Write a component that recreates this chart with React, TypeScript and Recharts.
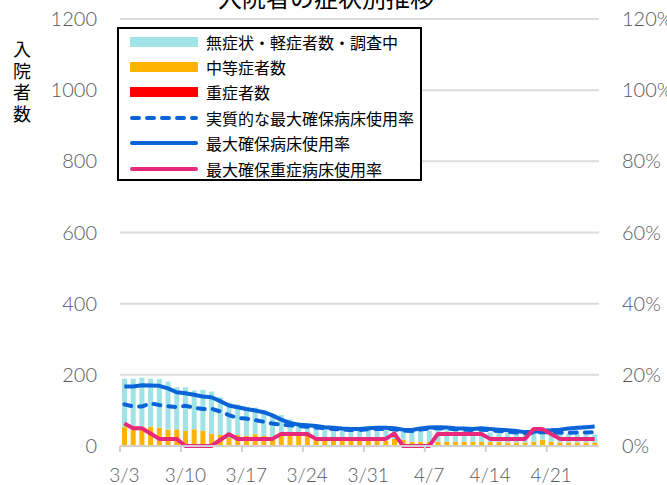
import {
    ComposedChart,
    Bar,
    Line,
    XAxis,
    YAxis,
    CartesianGrid,
    Legend,
} from 'recharts';

const dates = [
    '3/3', '3/4', '3/5', '3/6', '3/7', '3/8', '3/9', '3/10', '3/11', '3/12', '3/13', '3/14', '3/15', '3/16',
    '3/17', '3/18', '3/19', '3/20', '3/21', '3/22', '3/23', '3/24', '3/25', '3/26', '3/27', '3/28', '3/29', '3/30',
    '3/31', '4/1', '4/2', '4/3', '4/4', '4/5', '4/6', '4/7', '4/8', '4/9', '4/10', '4/11', '4/12', '4/13',
    '4/14', '4/15', '4/16', '4/17', '4/18', '4/19', '4/20', '4/21', '4/22', '4/23', '4/24', '4/25', '4/26',
];

// 無症状・軽症者数・調査中
const mild = [
    136, 133, 138, 135, 136, 135, 118, 123, 109, 116, 118, 106, 99, 86,
    80, 75, 73, 63, 59, 40, 36, 26, 34, 35, 35, 32, 32, 32,
    32, 32, 31, 25, 29, 32, 30, 31, 33, 32, 32, 30, 28, 28,
    27, 27, 26, 25, 24, 23, 20, 24, 25, 25, 24, 23, 23,
];
// 中等症者数
const moderate = [
    49, 53, 51, 52, 51, 45, 46, 42, 47, 42, 35, 30, 21, 30,
    27, 32, 27, 25, 26, 33, 29, 34, 25, 21, 19, 19, 17, 17,
    15, 14, 14, 18, 18, 12, 12, 12, 10, 10, 10, 10, 10, 10,
    10, 10, 9, 9, 9, 9, 15, 10, 9, 9, 9, 9, 9,
];
// 重症者数
const severe = [
    4, 3, 3, 2, 1, 1, 1, 0, 0, 0, 0, 1, 2, 1,
    1, 1, 1, 1, 2, 2, 2, 2, 1, 1, 1, 1, 1, 1,
    1, 1, 1, 2, 0, 0, 0, 0, 2, 2, 2, 2, 2, 2,
    1, 1, 1, 1, 1, 3, 3, 2, 1, 1, 1, 1, 1,
];
// 実質的な最大確保病床使用率 (%)
const effectiveRate = [
    11.7, 11.1, 11.1, 12.0, 11.5, 11.2, 10.9, 11.3, 10.8, 10.4, 10.5, 9.7, 8.7, 7.9,
    7.7, 7.3, 6.8, 6.3, 6.0, 5.8, 5.6, 5.4, 5.2, 5.0, 4.8, 4.6, 4.5, 4.5,
    4.7, 4.8, 4.8, 4.7, 4.3, 4.2, 4.6, 4.9, 5.0, 4.9, 4.7, 4.6, 4.5, 4.6,
    4.4, 4.2, 4.0, 3.8, 3.6, 3.7, 3.9, 3.8, 3.7, 3.7, 3.8, 3.8, 3.9,
];
// 最大確保病床使用率 (%)
const bedRate = [
    16.7, 16.7, 17.1, 17.0, 16.9, 16.2, 15.1, 14.8, 14.4, 13.9, 13.7, 12.6, 11.4, 10.9,
    10.4, 10.0, 9.5, 8.6, 7.4, 6.5, 6.0, 5.8, 5.6, 5.3, 5.1, 4.9, 4.8, 4.8,
    5.0, 5.1, 5.1, 5.0, 4.6, 4.5, 4.9, 5.2, 5.3, 5.2, 5.0, 4.9, 4.8, 5.0,
    4.8, 4.6, 4.4, 4.2, 3.9, 4.0, 4.3, 4.4, 4.6, 4.9, 5.1, 5.3, 5.5,
];
// 最大確保重症病床使用率 (%)
const severeBedRate = [
    6.3, 5.0, 5.0, 3.5, 2.0, 2.0, 2.0, 0, 0, 0, 0, 1.7, 3.3, 2.0,
    2.0, 2.0, 2.0, 2.0, 3.4, 3.4, 3.4, 3.4, 2.0, 2.0, 2.0, 2.0, 2.0, 2.0,
    2.0, 2.0, 2.0, 3.5, 0, 0, 0, 0, 3.4, 3.4, 3.4, 3.4, 3.4, 3.4,
    2.0, 2.0, 2.0, 2.0, 2.0, 4.8, 4.8, 3.4, 2.0, 2.0, 2.0, 2.0, 2.0,
];

const leftTicks = [0, 200, 400, 600, 800, 1000, 1200];
const rightTicks = [0, 20, 40, 60, 80, 100, 120];
const yLabelChars = ['入', '院', '者', '数'];

const legendItems = [
    {name: '無症状・軽症者数・調査中', color: '#9fe3e6', kind: 'bar'},
    {name: '中等症者数', color: '#ffb300', kind: 'bar'},
    {name: '重症者数', color: '#ff0000', kind: 'bar'},
    {name: '実質的な最大確保病床使用率', color: '#0a64d8', kind: 'dash'},
    {name: '最大確保病床使用率', color: '#0a64d8', kind: 'line'},
    {name: '最大確保重症病床使用率', color: '#e8287a', kind: 'line'},
];

const data = dates.map((d, i) => ({
    date: d,
    mild: mild[i],
    moderate: moderate[i],
    severe: severe[i],
    effectiveRate: effectiveRate[i],
    bedRate: bedRate[i],
    severeBedRate: severeBedRate[i],
}));

const FONT = 'Lato, "Noto Sans CJK JP", sans-serif';
const CJK = '"Noto Sans CJK JP", sans-serif';
const GRAY = '#595959';

const DateTick = (props: any) => {
    const {x, y, payload} = props;
    return (
        <g>
            <line x1={x - 4.35} x2={x - 4.35} y1={y} y2={y + 6} stroke="#d0d0d0" strokeWidth={2}/>
            <text x={x} y={y + 36} textAnchor="middle" fill={GRAY} fontSize={19} fontWeight={300}
                  fontFamily={FONT}>
                {payload.value}
            </text>
        </g>
    );
};

const renderLegend = () => (
    <div style={{
        width: 301,
        height: 150,
        border: '2px solid #000',
        background: '#fff',
        fontFamily: CJK,
        fontSize: 16,
        color: '#000',
    }}>
        {legendItems.map((it) => (
            <div key={it.name} style={{display: 'flex', alignItems: 'center', height: 25.4}}>
                <svg width={78} height={14} style={{marginLeft: 9}}>
                    {it.kind === 'bar' ? (
                        <rect x={2} y={2} width={68} height={10} fill={it.color}/>
                    ) : (
                        <line x1={4} x2={68} y1={7} y2={7} stroke={it.color} strokeWidth={4}
                              strokeLinecap="round"
                              strokeDasharray={it.kind === 'dash' ? '7 8' : undefined}/>
                    )}
                </svg>
                <span style={{whiteSpace: 'nowrap', lineHeight: '18px'}}>{it.name}</span>
            </div>
        ))}
    </div>
);

export default function App() {
    return (
        <div style={{position: 'absolute', left: 0, top: 0, width: 667, height: 485, background: '#fff'}}>
            <div style={{
                position: 'absolute', left: 0, width: 652, top: -17, textAlign: 'center',
                fontFamily: CJK, fontSize: 24, lineHeight: '28px', color: '#000',
            }}>
                入院者の症状別推移
            </div>
            {yLabelChars.map((c, i) => (
                <div key={c} style={{
                    position: 'absolute', left: 12, top: 38 + i * 21.5, width: 20, height: 20,
                    fontFamily: CJK, fontSize: 18, lineHeight: '20px', color: '#000', textAlign: 'center',
                }}>
                    {c}
                </div>
            ))}
            <ComposedChart width={667} height={485} data={data}
                           margin={{top: 19, right: 0, bottom: 0, left: 0}}
                           barCategoryGap={0}>
                <CartesianGrid vertical={false} stroke="#dcdcdc" strokeWidth={2} yAxisId="left"/>
                <XAxis dataKey="date" interval={6} height={39} tick={<DateTick/>}
                       tickSize={0} tickMargin={0}
                       axisLine={{stroke: '#d0d0d0', strokeWidth: 2}} tickLine={false}/>
                <YAxis yAxisId="left" domain={[0, 1200]} ticks={leftTicks} width={120}
                       axisLine={false} tickLine={false} tickSize={0} tickMargin={23}
                       tick={{fill: GRAY, fontSize: 20, fontWeight: 300, fontFamily: FONT}}/>
                <YAxis yAxisId="right" orientation="right" domain={[0, 120]} ticks={rightTicks} width={68}
                       axisLine={false} tickLine={false} tickSize={0} tickMargin={23}
                       tickFormatter={(v: number) => `${v}%`}
                       tick={{fill: GRAY, fontSize: 20, fontWeight: 300, fontFamily: FONT, textAnchor: 'start'}}/>
                <Legend layout="vertical" align="center" verticalAlign="middle"
                        wrapperStyle={{left: 117, top: 27, width: 305, height: 154}}
                        content={renderLegend}/>
                <Bar yAxisId="left" dataKey="severe" stackId="a" fill="#ff0000" barSize={5}
                     isAnimationActive={false}/>
                <Bar yAxisId="left" dataKey="moderate" stackId="a" fill="#ffb300" barSize={5}
                     isAnimationActive={false}/>
                <Bar yAxisId="left" dataKey="mild" stackId="a" fill="#9fe3e6" barSize={5}
                     isAnimationActive={false}/>
                <Line yAxisId="right" dataKey="effectiveRate" stroke="#0a64d8" strokeWidth={4}
                      strokeDasharray="7 8" strokeLinecap="round" dot={false} type="linear"
                      isAnimationActive={false}/>
                <Line yAxisId="right" dataKey="bedRate" stroke="#0a64d8" strokeWidth={4}
                      strokeLinejoin="round" dot={false} type="linear" isAnimationActive={false}/>
                <Line yAxisId="right" dataKey="severeBedRate" stroke="#e8287a" strokeWidth={4}
                      strokeLinejoin="round" dot={false} type="linear" isAnimationActive={false}/>
            </ComposedChart>
        </div>
    );
}
